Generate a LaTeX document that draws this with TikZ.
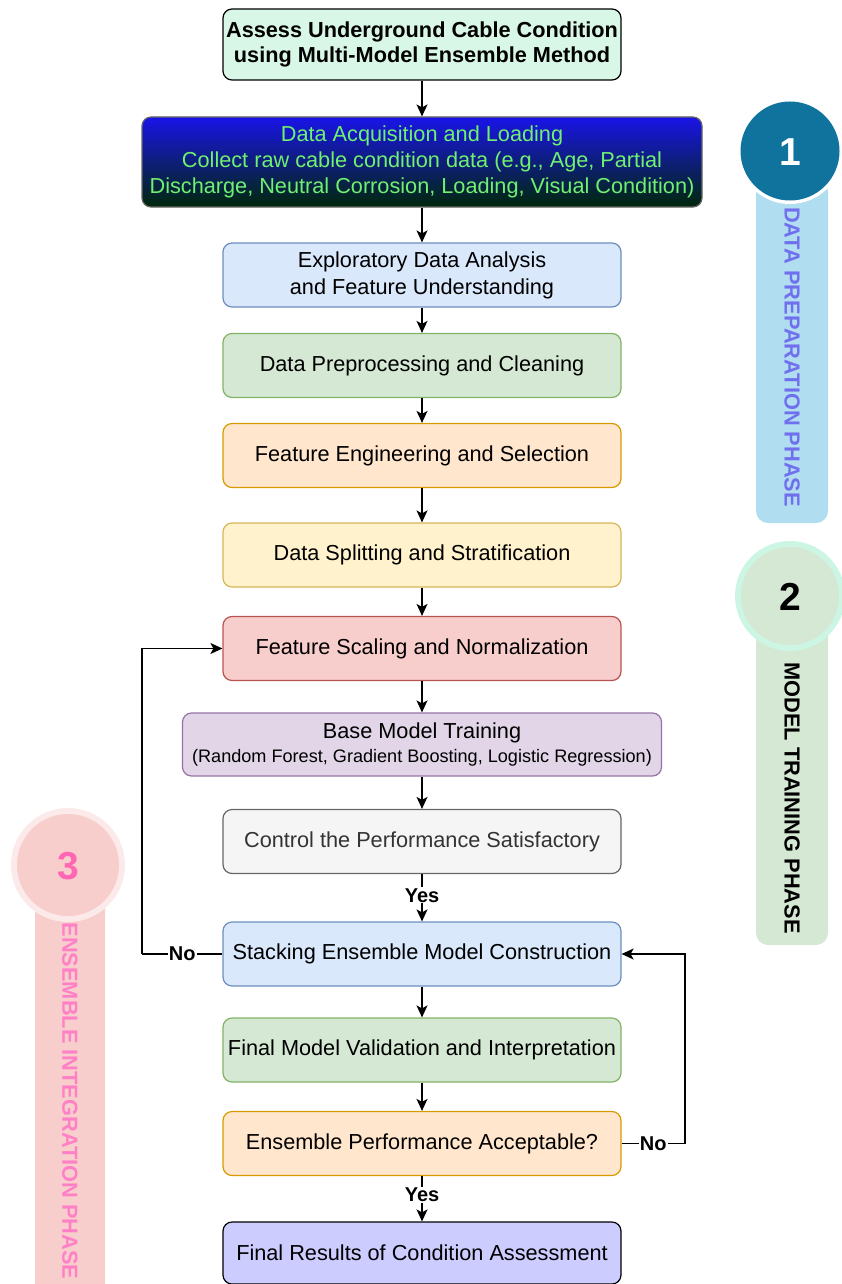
\documentclass[tikz,border=0pt]{standalone}
\usepackage{fontspec}
\setmainfont{Liberation Sans}
\usetikzlibrary{arrows.meta}
\definecolor{bluef}{HTML}{DAE8FC}\definecolor{blued}{HTML}{6C8EBF}
\definecolor{greenf}{HTML}{D5E8D4}\definecolor{greend}{HTML}{82B366}
\definecolor{orangef}{HTML}{FFE6CC}\definecolor{oranged}{HTML}{D79B00}
\definecolor{yellowf}{HTML}{FFF2CC}\definecolor{yellowd}{HTML}{D6B656}
\definecolor{redf}{HTML}{F8CECC}\definecolor{redd}{HTML}{B85450}
\definecolor{purplef}{HTML}{E1D5E7}\definecolor{purpled}{HTML}{9673A6}
\definecolor{grayf}{HTML}{F5F5F5}\definecolor{grayd}{HTML}{666666}
\definecolor{graytxt}{HTML}{333333}
\definecolor{titlef}{HTML}{D9F7E6}
\definecolor{finalf}{HTML}{CCCCFF}
\definecolor{acqtop}{HTML}{1A14E8}\definecolor{acqbot}{HTML}{00280A}
\definecolor{acqtxt}{HTML}{70F070}
\definecolor{phaseonef}{HTML}{10739E}\definecolor{phaseonebar}{HTML}{B1DDF0}
\definecolor{phaseonetxt}{HTML}{7070EE}
\definecolor{phasetworing}{HTML}{CCF5E4}
\definecolor{phasethreering}{HTML}{FCEAEA}
\definecolor{phasethreetxt}{HTML}{FF80C6}
\definecolor{phasethreenum}{HTML}{FF66B3}
\tikzset{
  box/.style={rounded corners=9pt, draw, line width=1.2pt, align=center,
    inner sep=0pt, minimum width=398pt, minimum height=64pt,
    font=\fontsize{21.7}{27}\selectfont},
  arr/.style={line width=1.4pt, -{Stealth[length=12pt,width=11pt,inset=3pt]}},
  ln/.style={line width=1.4pt},
  lbl/.style={fill=white, inner sep=1pt, font=\bfseries\fontsize{20}{22}\selectfont},
  phasetxt/.style={rotate=-90, font=\bfseries\fontsize{21.8}{24}\selectfont},
  phasenum/.style={font=\bfseries\fontsize{39}{42}\selectfont}
}
\begin{document}
\begin{tikzpicture}[x=1pt,y=-1pt]
\useasboundingbox (0,0) rectangle (841,1284);
% phase indicators
\fill[phaseonebar, rounded corners=12pt] (756,180) rectangle (828,523);
\fill[white] (790,151) circle (53);
\fill[phaseonef] (790,151) circle (49.5);
\node[phasenum, text=white] (n1) at (790,152) {1};
\node[phasetxt, text=phaseonetxt] (p1) at (792,357) {DATA PREPARATION PHASE};

\fill[greenf, rounded corners=12pt] (756,620) rectangle (828,945);
\fill[phasetworing] (790,596) circle (55);
\fill[greenf] (790,596) circle (49);
\node[phasenum] (n2) at (790,597) {2};
\node[phasetxt] (p2) at (792,798) {MODEL TRAINING PHASE};

\fill[redf, rounded corners=12pt] (35,890) rectangle (105,1300);
\fill[phasethreering] (68,865) circle (57);
\fill[redf] (68,865) circle (51);
\node[phasenum, text=phasethreenum] (n3) at (68,866) {3};
\node[phasetxt, text=phasethreetxt] (p3) at (70,1101) {ENSEMBLE INTEGRATION PHASE};

% boxes
\node[box, fill=titlef, minimum height=71pt, font=\bfseries\fontsize{21.7}{25}\selectfont] (title) at (422,44.5)
  {Assess Underground Cable Condition\\using Multi-Model Ensemble Method};
\node[box, draw=grayd, top color=acqtop, bottom color=acqbot, minimum width=560pt, minimum height=90pt,
  text=acqtxt, font=\fontsize{21.7}{26}\selectfont] (acq) at (422,162)
  {Data Acquisition and Loading\\Collect raw cable condition data (e.g., Age, Partial\\Discharge, Neutral Corrosion, Loading, Visual Condition)};
\node[box, fill=bluef, draw=blued] (eda) at (422,275)
  {Exploratory Data Analysis\\and Feature Understanding};
\node[box, fill=greenf, draw=greend] (prep) at (422,365.5) {Data Preprocessing and Cleaning};
\node[box, fill=orangef, draw=oranged] (fe) at (422,455.5) {Feature Engineering and Selection};
\node[box, fill=yellowf, draw=yellowd] (split) at (422,555) {Data Splitting and Stratification};
\node[box, fill=redf, draw=redd] (scale) at (422,648.5) {Feature Scaling and Normalization};
\node[box, fill=purplef, draw=purpled, minimum width=479pt, minimum height=63pt] (base) at (422,744.5)
  {Base Model Training\\[-3pt]{\fontsize{18.1}{21}\selectfont (Random Forest, Gradient Boosting, Logistic Regression)}};
\node[box, fill=grayf, draw=grayd, text=graytxt] (ctrl) at (422,841.5) {Control the Performance Satisfactory};
\node[box, fill=bluef, draw=blued] (stack) at (422,954) {Stacking Ensemble Model Construction};
\node[box, fill=greenf, draw=greend] (val) at (422,1050) {Final Model Validation and Interpretation};
\node[box, fill=orangef, draw=oranged] (ens) at (422,1143.5) {Ensemble Performance Acceptable?};
\node[box, fill=finalf, draw=black, minimum height=62pt] (res) at (422,1253) {Final Results of Condition Assessment};

% connectors
\draw[arr] (title) -- (acq);
\draw[arr] (acq) -- (eda);
\draw[arr] (eda) -- (prep);
\draw[arr] (prep) -- (fe);
\draw[arr] (fe) -- (split);
\draw[arr] (split) -- (scale);
\draw[arr] (scale) -- (base);
\draw[arr] (base) -- (ctrl);
\draw[arr] (ctrl) -- node[lbl, pos=0.45] {Yes} (stack);
\draw[arr] (stack) -- (val);
\draw[arr] (val) -- (ens);
\draw[arr] (ens) -- node[lbl, pos=0.42] {Yes} (res);
\coordinate (nol) at (142,954);
\coordinate (nor) at (685,1143.5);
\draw[ln] (stack.west) -- node[lbl] {No} (nol);
\draw[arr] (nol) |- (scale.west);
\draw[ln] (ens.east) -- node[lbl] {No} (nor);
\draw[arr] (nor) |- (stack.east);
\end{tikzpicture}
\end{document}
